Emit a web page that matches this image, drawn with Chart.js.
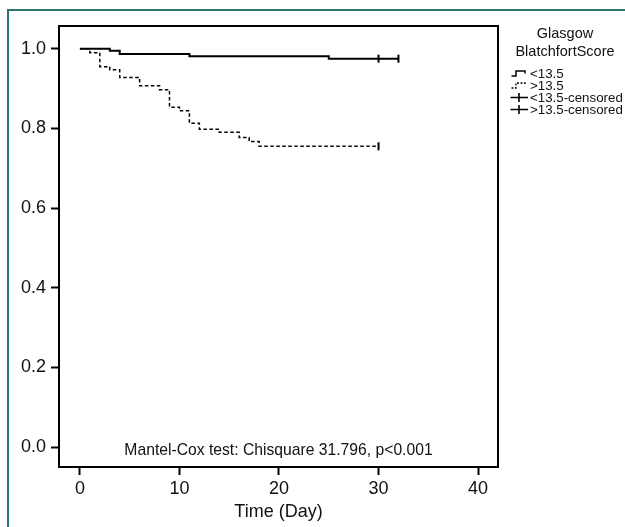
<!DOCTYPE html>
<html lang="en">
<head>
<meta charset="UTF-8" />
<meta name="viewport" content="width=device-width, initial-scale=1" />
<title>Survival by Glasgow Blatchford Score</title>
<script src="https://cdn.jsdelivr.net/npm/chart.js"></script>
<style>
  html, body {
    margin: 0;
    padding: 0;
    background: #fff;
  }
  #wrap {
    position: relative;
    width: 625px;
    height: 527px;
    overflow: hidden;
    font-family: "Liberation Sans", Arial, sans-serif;
    color: #111;
  }
  #km {
    position: absolute;
    left: 0;
    top: 0;
  }
  .frame-top {
    position: absolute;
    left: 7px;
    top: 9px;
    width: 618px;
    border-top: 2px solid #2a7676;
  }
  .frame-left {
    position: absolute;
    left: 7px;
    top: 9px;
    height: 518px;
    border-left: 2px solid #2a7676;
  }
  #legend {
    position: absolute;
    left: 505px;
    top: 24px;
    width: 120px;
    font-size: 13.3px;
  }
  #legend .title {
    text-align: center;
    font-size: 14.5px;
    line-height: 18px;
    margin-bottom: 7px;
  }
  #legend .row {
    display: flex;
    align-items: center;
    height: 12px;
    margin-left: 5px;
    white-space: nowrap;
  }
  #legend svg {
    flex: none;
    margin-right: 1px;
  }
</style>
</head>
<body>

<div id="wrap">
  <canvas id="km" width="625" height="527"></canvas>
  <div class="frame-top"></div>
  <div class="frame-left"></div>
  <div id="legend">
    <div class="title">Glasgow<br>BlatchfortScore</div>
    <div class="row">
      <svg width="19" height="11"><path d="M1.5 8 H6 V3 H15 V5.5" fill="none" stroke="#000" stroke-width="1.5"/></svg>
      <span>&lt;13.5</span>
    </div>
    <div class="row">
      <svg width="19" height="11"><path d="M1.5 8 H6 V3 H15 V5.5" fill="none" stroke="#000" stroke-width="1.3" stroke-dasharray="2 1.5"/></svg>
      <span>&gt;13.5</span>
    </div>
    <div class="row">
      <svg width="19" height="11"><path d="M0.5 5.5 H18 M9 1 V10" fill="none" stroke="#000" stroke-width="1.6"/></svg>
      <span>&lt;13.5-censored</span>
    </div>
    <div class="row">
      <svg width="19" height="11"><path d="M0.5 5.5 H18 M9 1 V10" fill="none" stroke="#000" stroke-width="1.6"/></svg>
      <span>&gt;13.5-censored</span>
    </div>
  </div>
</div>

<script>
  const FONT = '"Liberation Sans", Arial, sans-serif';

  // axis ticks
  const timeTicks = [0, 10, 20, 30, 40];
  const survTicks = [0, 0.2, 0.4, 0.6, 0.8, 1.0];

  // score < 13.5 : event days and cumulative survival
  const lowDays = [0, 3, 4, 11, 25, 32];
  const lowSurv = [1.0, 0.995, 0.987, 0.981, 0.975, 0.975];
  const lowCensorDays = [30, 32];
  const lowCensorSurv = [0.975, 0.975];

  // score > 13.5
  const highDays = [0, 1, 2, 3, 4, 6, 8, 9, 10, 11, 12, 14, 16, 17, 18, 30];
  const highSurv = [1.0, 0.990, 0.955, 0.947, 0.928, 0.907, 0.897, 0.853, 0.844, 0.813, 0.798, 0.790, 0.777, 0.767, 0.755, 0.755];
  const highCensorDays = [30];
  const highCensorSurv = [0.755];

  const testNote = 'Mantel-Cox test: Chisquare 31.796, p<0.001';

  function toPoints(xs, ys) {
    return xs.map((x, i) => ({ x: x, y: ys[i] }));
  }

  // closed box round the plot + test note
  const boxPlugin = {
    id: 'box',
    afterDatasetsDraw(chart) {
      const { ctx, chartArea: a } = chart;
      ctx.save();
      ctx.strokeStyle = '#000';
      ctx.lineWidth = 2;
      ctx.strokeRect(a.left, a.top, a.right - a.left, a.bottom - a.top);
      ctx.fillStyle = '#111';
      ctx.font = '15.7px ' + FONT;
      ctx.textAlign = 'center';
      ctx.textBaseline = 'middle';
      ctx.fillText(testNote, (a.left + a.right) / 2, 451);
      ctx.restore();
    }
  };

  const censorStyle = {
    showLine: false,
    pointStyle: 'line',
    pointRotation: 90,
    pointRadius: 4,
    pointBorderWidth: 2,
    pointBorderColor: '#000',
    borderColor: '#000'
  };

  new Chart(document.getElementById('km'), {
    type: 'scatter',
    data: {
      datasets: [
        {
          label: '<13.5',
          data: toPoints(lowDays, lowSurv),
          showLine: true,
          stepped: 'before',
          borderColor: '#000',
          borderWidth: 2,
          pointRadius: 0
        },
        {
          label: '>13.5',
          data: toPoints(highDays, highSurv),
          showLine: true,
          stepped: 'before',
          borderColor: '#000',
          borderWidth: 1.5,
          borderDash: [3.5, 2.5],
          pointRadius: 0
        },
        Object.assign({ label: '<13.5-censored', data: toPoints(lowCensorDays, lowCensorSurv) }, censorStyle),
        Object.assign({ label: '>13.5-censored', data: toPoints(highCensorDays, highCensorSurv) }, censorStyle)
      ]
    },
    options: {
      responsive: false,
      animation: false,
      layout: { padding: { top: 26, right: 127, bottom: 0, left: 0 } },
      plugins: {
        legend: { display: false },
        tooltip: { enabled: false }
      },
      scales: {
        x: {
          type: 'linear',
          min: -2.1,
          max: 42,
          afterBuildTicks: s => { s.ticks = timeTicks.map(v => ({ value: v })); },
          afterFit: s => { s.height = 60; },
          border: { display: true, color: '#000', width: 2 },
          grid: { drawOnChartArea: false, drawTicks: true, tickLength: 8, tickWidth: 2, tickColor: '#000' },
          ticks: { color: '#111', font: { family: FONT, size: 18 }, padding: 3, maxRotation: 0 },
          title: {
            display: true,
            text: 'Time (Day)',
            color: '#111',
            font: { family: FONT, size: 18 },
            padding: { top: 0, bottom: 4 }
          }
        },
        y: {
          type: 'linear',
          min: -0.05,
          max: 1.057,
          afterBuildTicks: s => { s.ticks = survTicks.map(v => ({ value: v })); },
          afterFit: s => { s.width = 59; },
          border: { display: true, color: '#000', width: 2 },
          grid: { drawOnChartArea: false, drawTicks: true, tickLength: 8, tickWidth: 2, tickColor: '#000' },
          ticks: {
            color: '#111',
            font: { family: FONT, size: 18 },
            padding: 5,
            callback: v => v.toFixed(1)
          }
        }
      }
    },
    plugins: [boxPlugin]
  });
</script>

</body>
</html>
